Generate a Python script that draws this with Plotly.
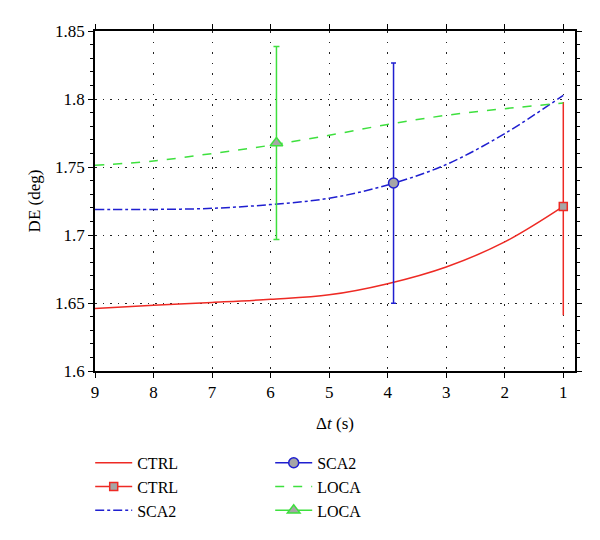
import plotly.graph_objects as go

# ---- data ----
dt = [9, 8, 7, 6, 5, 4, 3, 2, 1]
ctrl_curve = [1.6460, 1.6484, 1.6504, 1.6527, 1.6560, 1.6642, 1.6765, 1.6949, 1.7210]
sca2_curve = [1.7187, 1.7188, 1.7196, 1.7224, 1.7270, 1.7368, 1.7518, 1.7746, 1.8027]
loca_curve = [1.7512, 1.7544, 1.7599, 1.7660, 1.7733, 1.7813, 1.7880, 1.7929, 1.7970]

ctrl_pt_x = [1.0]
ctrl_pt_y = [1.7210]
ctrl_err_plus = [0.0768]
ctrl_err_minus = [0.0800]

sca2_pt_x = [3.9]
sca2_pt_y = [1.7382]
sca2_err = [0.0883]

loca_pt_x = [5.9]
loca_pt_y = [1.7676]
loca_err = [0.0710]

x_ticks = [9, 8, 7, 6, 5, 4, 3, 2, 1]
y_ticks = [1.6, 1.65, 1.7, 1.75, 1.8, 1.85]

RED = "#ee2a24"
BLUE = "#1f1fd0"
GREEN = "#3ee03e"
GRAY = "#a6a6a6"
FONT = "'Liberation Serif', 'Times New Roman', Times, serif"

fig = go.Figure()

fig.add_trace(go.Scatter(x=dt, y=ctrl_curve, mode="lines", name="CTRL",
                         line=dict(color=RED, width=1.5, shape="spline"), legend="legend"))
fig.add_trace(go.Scatter(x=ctrl_pt_x, y=ctrl_pt_y, mode="lines+markers", name="CTRL",
                         line=dict(color=RED, width=1.5),
                         marker=dict(symbol="square", size=8, color=GRAY, line=dict(color=RED, width=1.5)),
                         error_y=dict(type="data", symmetric=False, array=ctrl_err_plus,
                                      arrayminus=ctrl_err_minus, color=RED, thickness=1.5, width=0),
                         legend="legend"))
fig.add_trace(go.Scatter(x=dt, y=sca2_curve, mode="lines", name="SCA2",
                         line=dict(color=BLUE, width=1.5, dash="dashdot", shape="spline"), legend="legend"))
fig.add_trace(go.Scatter(x=sca2_pt_x, y=sca2_pt_y, mode="lines+markers", name="SCA2",
                         line=dict(color=BLUE, width=1.5),
                         marker=dict(symbol="circle", size=10, color=GRAY, line=dict(color=BLUE, width=1.5)),
                         error_y=dict(type="data", array=sca2_err, color=BLUE, thickness=1.5, width=2.5),
                         legend="legend2"))
fig.add_trace(go.Scatter(x=dt, y=loca_curve, mode="lines", name="LOCA",
                         line=dict(color=GREEN, width=1.5, dash="dash", shape="spline"), legend="legend2"))
fig.add_trace(go.Scatter(x=loca_pt_x, y=loca_pt_y, mode="lines+markers", name="LOCA",
                         line=dict(color=GREEN, width=1.5),
                         marker=dict(symbol="triangle-up", size=11, color=GRAY, line=dict(color=GREEN, width=1.5)),
                         error_y=dict(type="data", array=loca_err, color=GREEN, thickness=1.5, width=3),
                         legend="legend2"))

axis_common = dict(showline=True, linecolor="black", linewidth=1.5, mirror="ticks",
                   ticks="outside", tickcolor="black", ticklen=5, tickwidth=1.2,
                   showgrid=True, gridcolor="#222222", gridwidth=1, zeroline=False,
                   automargin=False,
                   tickfont=dict(family=FONT, size=17, color="black"))

fig.update_xaxes(range=[9.0, 0.8], tickvals=x_ticks, ticktext=[str(v) for v in x_ticks],
                 griddash="1.5px,9px",
                 title=dict(text="Δ<i>t</i> (s)", font=dict(family=FONT, size=17, color="black"), standoff=16),
                 **axis_common)
fig.update_yaxes(range=[1.6, 1.85], tickvals=y_ticks, ticktext=["1.6", "1.65", "1.7", "1.75", "1.8", "1.85"],
                 griddash="1.5px,6px",
                 minor=dict(ticks="outside", dtick=0.01, ticklen=3, tickcolor="black", showgrid=False),
                 title=dict(text="DE (deg)", font=dict(family=FONT, size=17, color="black"), standoff=10),
                 **axis_common)

legend_common = dict(font=dict(family=FONT, size=16, color="black"), bgcolor="rgba(0,0,0,0)",
                     xanchor="left", yanchor="top", tracegroupgap=0, itemwidth=37)

# page body adds an 8px offset; margins compensate so the plot lands where the reference has it
fig.update_layout(
    width=600, height=540,
    margin=dict(l=87, r=33, t=23, b=177, autoexpand=False),
    plot_bgcolor="white", paper_bgcolor="white",
    font=dict(family=FONT, color="black"),
    legend=dict(x=-0.01, y=-0.22, **legend_common),
    legend2=dict(x=0.365, y=-0.22, **legend_common),
    showlegend=True,
)

fig.write_html("out.html")
